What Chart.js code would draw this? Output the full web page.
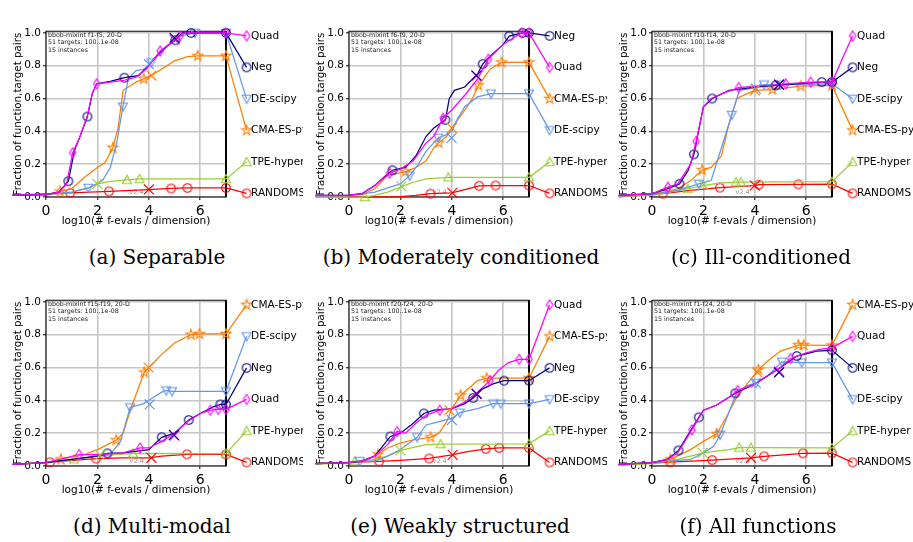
<!DOCTYPE html>
<html>
<head>
<meta charset="utf-8">
<script src="https://cdn.jsdelivr.net/npm/chart.js@4.4.1/dist/chart.umd.min.js"></script>
<style>
  html, body { margin: 0; padding: 0; background: #fff; }
  #page { position: relative; width: 913px; height: 542px; overflow: hidden; }
  #page canvas { position: absolute; }
  .cap { position: absolute; width: 320px; text-align: center; font-family: 'DejaVu Serif', serif;
         font-size: 20px; line-height: 24px; color: #000; white-space: nowrap; }
</style>
</head>
<body>
<div id="page"></div>
<script>
const algos = ['Quad', 'Neg', 'DE-scipy', 'CMA-ES-py', 'TPE-hyper', 'RANDOMS'];
const labelLevels = [0.982, 0.79, 0.598, 0.406, 0.214, 0.022];
const labelX = 7.8;
const xTicks = [0, 2, 4, 6];
const yTicks = [0, 0.2, 0.4, 0.6, 0.8, 1.0];
const infoLines = ['51 targets: 100..1e-08', '15 instances'];

// points are [log10(evals/dim), fraction, 1 = marker]
// (a) separable f1-f5
const sepQuad = [[-1.3,0.012],[0,0.015],[0.5,0.03],[0.8,0.08],[1.04,0.27,1],[1.3,0.36],[1.6,0.49],[1.8,0.63],[1.97,0.69,1],[2.5,0.70],[3.0,0.71],[3.5,0.73],[3.9,0.78],[4.2,0.84],[4.44,0.89,1],[4.7,0.92],[4.96,0.95],[5.2,0.98,1],[5.4,1.0],[6.0,1.0],[7,1.0,1]];
const sepNeg = [[-1.3,0.012],[0,0.015],[0.5,0.03],[0.87,0.096,1],[1.1,0.28],[1.35,0.38],[1.61,0.49,1],[1.8,0.63],[1.97,0.69],[2.5,0.705],[3.05,0.727,1],[3.6,0.74],[3.92,0.79],[4.3,0.86],[4.7,0.92],[5.03,0.955,1],[5.3,1.0],[5.64,1.0,1],[7,1.0,1]];
const sepDE = [[-1.3,0.01],[0,0.015],[1.0,0.03],[1.65,0.055,1],[2.2,0.1],[2.5,0.18],[2.75,0.33],[2.99,0.55,1],[3.2,0.72],[3.5,0.77],[3.9,0.78],[4.1,0.82,1],[4.4,0.87],[4.8,0.93],[5.2,0.98],[5.8,1.0,1],[7,1.0,1]];
const sepCMA = [[-1.3,0.01],[0,0.015],[0.55,0.034,1],[1.0,0.05],[1.5,0.12],[2.0,0.18],[2.3,0.21],[2.6,0.30,1],[2.8,0.42],[3.0,0.65],[3.3,0.68],[3.5,0.70],[3.8,0.72,1],[4.2,0.75],[4.6,0.79],[5.0,0.83],[5.5,0.855],[5.9,0.86,1],[7,0.86,1]];
const sepTPE = [[-1.3,0.01],[0,0.015],[1.0,0.03],[1.65,0.055],[2.0,0.08],[2.5,0.095],[3.15,0.105,1],[3.64,0.11,1],[7,0.11,1]];
const sepRnd = [[-1.3,0.012],[0.94,0.025,1],[2.45,0.034,1],[4.0,0.045],[4.87,0.052,1],[5.5,0.055,1],[7,0.055,1]];
const sepCross = [[5.0,0.96],[5.0,0.97],[4.0,0.81],[4.1,0.74],[2.0,0.08],[4.0,0.046]];
const sepOrder = ['Quad', 'Neg', 'DE-scipy', 'CMA-ES-py', 'TPE-hyper', 'RANDOMS'];

// (b) moderately conditioned f6-f9
const modQuad = [[-1.3,0.01],[0,0.012],[0.5,0.02],[1.0,0.07],[1.58,0.145,1],[2.0,0.17],[2.5,0.22],[3.0,0.33],[3.3,0.37],[3.66,0.48,1],[4.0,0.53],[4.5,0.62],[5.0,0.72],[5.42,0.84,1],[6.0,0.93],[6.4,0.97],[6.71,1.0,1],[7,1.0,1]];
const modNeg = [[-1.3,0.01],[0,0.012],[0.5,0.02],[1.0,0.07],[1.5,0.14],[1.69,0.163,1],[2.2,0.18],[2.6,0.25],[3.0,0.37],[3.3,0.42],[3.75,0.47,1],[3.9,0.6],[4.1,0.65],[4.5,0.67],[5.0,0.75],[5.2,0.81,1],[5.5,0.86],[6.0,0.93],[6.23,0.98,1],[6.75,1.0,1],[7,1.0,1]];
const modDE = [[-1.3,0.005],[0,0.008],[1.0,0.03],[1.6,0.06],[2.0,0.08],[2.36,0.13,1],[2.7,0.2],[3.0,0.28],[3.47,0.36,1],[3.8,0.38],[4.0,0.40],[4.2,0.47],[4.5,0.55],[5.0,0.61],[5.52,0.63,1],[7,0.63,1]];
const modCMA = [[-1.3,0.005],[0,0.008],[0.5,0.015],[1.0,0.05],[1.5,0.13],[2.2,0.155,1],[2.6,0.18],[3.0,0.22],[3.3,0.30],[3.49,0.33,1],[3.8,0.37],[4.0,0.42],[4.5,0.53],[4.8,0.6],[5.03,0.68,1],[5.5,0.78],[5.93,0.82,1],[7,0.82,1]];
const modTPE = [[-1.3,0.0],[0.61,0.0,1],[1.0,0.01],[1.5,0.03],[2.0,0.06],[2.5,0.09],[3.0,0.11],[3.86,0.12,1],[7,0.12,1]];
const modRnd = [[-1.3,0.0],[2.0,0.003],[2.6,0.01],[3.17,0.02,1],[4.0,0.025],[4.5,0.045],[5.06,0.068,1],[5.7,0.07,1],[7,0.07,1]];
const modCross = [[4.95,0.74],[4.96,0.74],[3.99,0.36],[4.0,0.42],[2.04,0.065],[4.02,0.025]];
const modOrder = ['Neg', 'Quad', 'CMA-ES-py', 'DE-scipy', 'TPE-hyper', 'RANDOMS'];

// (c) ill-conditioned f10-f14
const illQuad = [[-1.3,0.01],[0,0.02],[0.62,0.06,1],[1.0,0.08],[1.5,0.2],[1.72,0.34,1],[2.0,0.55],[2.3,0.60],[2.8,0.635],[3.37,0.667,1],[4.0,0.675],[4.6,0.68],[5.2,0.69,1],[6.17,0.70,1],[7,0.70,1]];
const illNeg = [[-1.3,0.01],[0,0.02],[0.6,0.05],[1.07,0.08,1],[1.4,0.16],[1.63,0.26,1],[2.0,0.55],[2.34,0.60,1],[3.0,0.65],[4.0,0.67],[4.81,0.68,1],[6.6,0.70,1],[7,0.70,1]];
const illDE = [[-1.3,0.005],[0,0.015],[1.0,0.04],[1.82,0.08,1],[2.3,0.1],[2.6,0.25],[3.1,0.50,1],[3.4,0.65],[4.0,0.665],[4.36,0.685,1],[5.0,0.685,1],[7,0.69,1]];
const illCMA = [[-1.3,0.005],[0,0.015],[1.0,0.05],[1.5,0.1],[1.95,0.164,1],[2.3,0.18],[2.7,0.25],[3.0,0.45],[3.3,0.6],[3.7,0.63],[4.0,0.65],[4.68,0.655,1],[5.78,0.675,1],[7,0.68,1]];
const illTPE = [[-1.3,0.0],[0,0.01],[1.39,0.05,1],[2.0,0.07],[2.6,0.085],[3.26,0.09,1],[3.45,0.09,1],[7,0.093,1]];
const illRnd = [[-1.3,0.0],[0.42,0.02,1],[1.5,0.04],[2.64,0.057,1],[4.0,0.07],[4.16,0.075,1],[5.69,0.077,1],[7,0.078,1]];
const illCross = [[4.94,0.685],[4.94,0.685],[4.04,0.66],[4.0,0.65],[2.0,0.075],[4.0,0.07]];
const illOrder = ['Quad', 'Neg', 'DE-scipy', 'CMA-ES-py', 'TPE-hyper', 'RANDOMS'];

// (d) multi-modal f15-f19
const mulQuad = [[-1.3,0.01],[0,0.02],[1.29,0.07,1],[2.0,0.07],[3.0,0.08],[3.66,0.11,1],[4.0,0.11],[4.5,0.15],[5.0,0.2],[5.5,0.27],[6.0,0.32],[6.39,0.34,1],[6.7,0.345,1],[7,0.345,1]];
const mulNeg = [[-1.3,0.01],[0,0.02],[1.0,0.04],[2.0,0.06],[2.39,0.077,1],[3.0,0.08],[4.0,0.1],[4.2,0.13],[4.5,0.175,1],[5.0,0.2],[5.55,0.28,1],[6.0,0.32],[6.5,0.36],[6.78,0.375,1],[7,0.375,1]];
const mulDE = [[-1.3,0.01],[0,0.02],[1.0,0.04],[2.0,0.06],[2.5,0.07],[2.9,0.15],[3.27,0.357,1],[3.8,0.38],[4.2,0.42],[4.5,0.45],[4.68,0.46,1],[4.9,0.455,1],[7,0.455,1]];
const mulCMA = [[-1.3,0.01],[0,0.02],[0.58,0.04,1],[1.5,0.07],[2.0,0.10],[2.73,0.157,1],[3.0,0.2],[3.3,0.35],[3.82,0.57,1],[4.0,0.6],[4.5,0.68],[5.0,0.75],[5.64,0.80,1],[5.97,0.805,1],[7,0.805,1]];
const mulTPE = [[-1.3,0.01],[0,0.02],[1.09,0.04,1],[2.0,0.06],[2.7,0.07],[3.38,0.077,1],[7,0.075,1]];
const mulRnd = [[-1.3,0.01],[0.16,0.023,1],[1.95,0.045,1],[3.0,0.05],[4.0,0.05],[4.5,0.06],[5.48,0.071,1],[7,0.071,1]];
const mulCross = [[5.0,0.185],[4.97,0.19],[4.03,0.375],[3.99,0.60],[2.1,0.068],[4.1,0.05]];
const mulOrder = ['CMA-ES-py', 'DE-scipy', 'Neg', 'Quad', 'TPE-hyper', 'RANDOMS'];

// (e) weakly structured f20-f24
const weaQuad = [[-1.3,0.015],[0,0.02],[0.5,0.03],[1.0,0.06],[1.5,0.13],[1.87,0.21,1],[2.2,0.2],[2.6,0.26],[3.0,0.31],[3.53,0.34,1],[4.0,0.35],[4.5,0.39],[5.0,0.45],[5.48,0.52,1],[5.8,0.58],[6.2,0.63],[6.62,0.65,1],[7,0.65,1]];
const weaNeg = [[-1.3,0.015],[0,0.02],[0.5,0.03],[1.0,0.06],[1.61,0.18,1],[2.0,0.2],[2.5,0.26],[2.91,0.32,1],[3.3,0.34],[4.0,0.35],[4.5,0.38],[4.83,0.415,1],[5.2,0.47],[5.6,0.5],[6.03,0.52,1],[7,0.52,1]];
const weaDE = [[-1.3,0.015],[0,0.02],[0.42,0.03,1],[1.0,0.03],[1.5,0.06],[2.0,0.1],[2.65,0.175,1],[3.0,0.25],[3.5,0.27],[4.0,0.29],[4.31,0.325,1],[5.0,0.35],[5.61,0.38,1],[5.9,0.38,1],[7,0.38,1]];
const weaCMA = [[-1.3,0.015],[0,0.02],[0.5,0.03],[1.13,0.07,1],[1.5,0.11],[2.0,0.14],[2.5,0.16],[3.17,0.175,1],[3.5,0.2],[3.8,0.27],[4.0,0.35],[4.34,0.43,1],[4.7,0.48],[5.0,0.52],[5.35,0.535,1],[7,0.535,1]];
const weaTPE = [[-1.3,0.01],[0,0.02],[0.22,0.03,1],[1.0,0.04],[1.5,0.06],[2.0,0.095],[3.0,0.13],[3.56,0.134,1],[7,0.135,1]];
const weaRnd = [[-1.3,0.015],[1.17,0.028,1],[2.0,0.035],[3.12,0.046,1],[4.0,0.068],[4.5,0.085],[5.32,0.104,1],[5.84,0.11,1],[7,0.11,1]];
const weaCross = [[4.97,0.44],[4.96,0.44],[4.0,0.28],[3.9,0.34],[2.0,0.095],[4.03,0.068]];
const weaOrder = ['Quad', 'CMA-ES-py', 'Neg', 'DE-scipy', 'TPE-hyper', 'RANDOMS'];

// (f) all functions f1-f24
const allQuad = [[-1.3,0.01],[0,0.02],[0.6,0.04],[1.0,0.08],[1.55,0.22,1],[2.0,0.34],[2.5,0.37],[3.0,0.42],[3.33,0.46,1],[4.0,0.5],[4.5,0.55],[5.0,0.6],[5.39,0.655,1],[6.0,0.69],[6.5,0.71],[7,0.72,1]];
const allNeg = [[-1.3,0.01],[0,0.02],[0.6,0.04],[1.03,0.095,1],[1.82,0.296,1],[2.0,0.34],[2.5,0.37],[3.24,0.443,1],[4.0,0.5],[4.5,0.55],[5.0,0.6],[5.63,0.67,1],[6.4,0.70],[7,0.705,1]];
const allDE = [[-1.3,0.01],[0,0.02],[1.5,0.04],[2.0,0.08],[2.4,0.12],[2.65,0.19,1],[3.0,0.33],[3.3,0.45],[3.7,0.49],[4.04,0.505,1],[4.5,0.55],[5.05,0.635,1],[5.82,0.63,1],[7,0.63,1]];
const allCMA = [[-1.3,0.01],[0,0.02],[0.71,0.04,1],[1.5,0.1],[2.0,0.15],[2.52,0.196,1],[2.9,0.3],[3.3,0.42],[3.7,0.5],[4.14,0.587,1],[4.5,0.64],[5.0,0.7],[5.69,0.737,1],[5.9,0.737,1],[7,0.735,1]];
const allTPE = [[-1.3,0.005],[0,0.015],[1.0,0.04],[1.5,0.06],[2.0,0.08],[2.5,0.09],[3.0,0.1],[3.39,0.112,1],[3.85,0.112,1],[7,0.11,1]];
const allRnd = [[-1.3,0.005],[0.71,0.023,1],[2.34,0.036,1],[3.85,0.05],[4.36,0.059,1],[5.87,0.077,1],[7,0.078,1]];
const allCross = [[4.95,0.575],[4.94,0.57],[4.04,0.505],[4.1,0.57],[1.97,0.08],[3.85,0.05]];
const allOrder = ['CMA-ES-py', 'Quad', 'Neg', 'DE-scipy', 'TPE-hyper', 'RANDOMS'];

const panels = [
  { title: 'bbob-mixint f1-f5, 20-D', caption: '(a) Separable', order: sepOrder, cross: sepCross,
    curves: [sepQuad, sepNeg, sepDE, sepCMA, sepTPE, sepRnd] },
  { title: 'bbob-mixint f6-f9, 20-D', caption: '(b) Moderately conditioned', order: modOrder, cross: modCross,
    curves: [modQuad, modNeg, modDE, modCMA, modTPE, modRnd] },
  { title: 'bbob-mixint f10-f14, 20-D', caption: '(c) Ill-conditioned', order: illOrder, cross: illCross,
    curves: [illQuad, illNeg, illDE, illCMA, illTPE, illRnd] },
  { title: 'bbob-mixint f15-f19, 20-D', caption: '(d) Multi-modal', order: mulOrder, cross: mulCross,
    curves: [mulQuad, mulNeg, mulDE, mulCMA, mulTPE, mulRnd] },
  { title: 'bbob-mixint f20-f24, 20-D', caption: '(e) Weakly structured', order: weaOrder, cross: weaCross,
    curves: [weaQuad, weaNeg, weaDE, weaCMA, weaTPE, weaRnd] },
  { title: 'bbob-mixint f1-f24, 20-D', caption: '(f) All functions', order: allOrder, cross: allCross,
    curves: [allQuad, allNeg, allDE, allCMA, allTPE, allRnd] },
];

// page placement of each subfigure
const slots = [
  { left: 0, top: 0, width: 303, capX: 157, capTop: 245 },
  { left: 303, top: 0, width: 304, capX: 461, capTop: 245 },
  { left: 606, top: 0, width: 307, capX: 761, capTop: 245 },
  { left: 0, top: 269, width: 303, capX: 152, capTop: 514 },
  { left: 303, top: 269, width: 304, capX: 460, capTop: 514 },
  { left: 606, top: 269, width: 307, capX: 758, capTop: 514 },
];

const colors = ['#ff00ff', '#000080', '#6495ed', '#ff7f00', '#9acd32', '#ff0000'];
const shapes = ['diamond', 'circle', 'tridown', 'star', 'triup', 'circle'];
const font = 'DejaVu Sans';

const markerImg = (shape, color) => {
  const c = document.createElement('canvas');
  c.width = 14;
  c.height = 14;
  const g = c.getContext('2d');
  g.translate(7, 7);
  g.strokeStyle = color;
  g.lineWidth = 1.1;
  g.beginPath();
  if (shape === 'circle') {
    g.arc(0, 0, 4.3, 0, Math.PI * 2);
  } else if (shape === 'diamond') {
    g.moveTo(0, -5); g.lineTo(3.2, 0); g.lineTo(0, 5); g.lineTo(-3.2, 0); g.closePath();
  } else if (shape === 'tridown') {
    g.moveTo(-4.5, -3.8); g.lineTo(4.5, -3.8); g.lineTo(0, 4.5); g.closePath();
  } else if (shape === 'triup') {
    g.moveTo(-4.5, 3.8); g.lineTo(4.5, 3.8); g.lineTo(0, -4.5); g.closePath();
  } else if (shape === 'star') {
    for (let i = 0; i < 10; i++) {
      const r = i % 2 ? 2.1 : 5.3;
      const a = -Math.PI / 2 + i * Math.PI / 5;
      if (i === 0) g.moveTo(r * Math.cos(a), r * Math.sin(a));
      else g.lineTo(r * Math.cos(a), r * Math.sin(a));
    }
    g.closePath();
  }
  g.stroke();
  return c;
};

const bbobDecor = {
  id: 'bbobDecor',
  beforeDatasetsDraw(chart, args, opts) {
    const { ctx, chartArea: a } = chart;
    const xs = chart.scales.x;
    const ys = chart.scales.y;
    ctx.save();
    ctx.strokeStyle = '#000';
    ctx.lineWidth = 1;
    ctx.strokeRect(a.left, a.top, a.right - a.left, a.bottom - a.top);
    ctx.lineWidth = 2;
    ctx.beginPath();
    ctx.moveTo(a.right, a.top);
    ctx.lineTo(a.right, a.bottom);
    ctx.stroke();

    ctx.fillStyle = '#222';
    ctx.font = '6.3px "' + font + '"';
    ctx.textBaseline = 'middle';
    [opts.title, ...infoLines].forEach((t, i) => ctx.fillText(t, a.left + 2, a.top + 4.4 + i * 7.2));

    ctx.fillStyle = '#999';
    ctx.font = '6.5px "' + font + '"';
    ctx.fillText('v2.4', xs.getPixelForValue(3.25), ys.getPixelForValue(0.027));
    ctx.restore();
  },
  afterDatasetsDraw(chart, args, opts) {
    const { ctx } = chart;
    const xs = chart.scales.x;
    const ys = chart.scales.y;
    ctx.save();
    ctx.fillStyle = '#000';
    ctx.font = '10.5px "' + font + '"';
    ctx.textBaseline = 'middle';
    opts.order.forEach((name, i) => {
      ctx.fillText(name, xs.getPixelForValue(labelX) + 4.5, ys.getPixelForValue(labelLevels[i]));
    });
    ctx.restore();
  }
};

// x range fixed after the data limits (not as user min/max) so the line
// controller keeps the points that lie outside the frame
const fixX = s => { s.min = 0; s.max = 7; };

const page = document.getElementById('page');

panels.forEach((panel, p) => {
  const slot = slots[p];
  const canvas = document.createElement('canvas');
  canvas.width = slot.width;
  canvas.height = 232;
  canvas.style.left = slot.left + 'px';
  canvas.style.top = slot.top + 'px';
  page.appendChild(canvas);

  const cap = document.createElement('div');
  cap.className = 'cap';
  cap.textContent = panel.caption;
  cap.style.left = (slot.capX - 160) + 'px';
  cap.style.top = slot.capTop + 'px';
  page.appendChild(cap);

  const datasets = [{
    data: panel.cross.map(([x, y]) => ({ x, y })),
    showLine: false,
    clip: false,
    pointStyle: 'crossRot',
    pointRadius: 7,
    pointBorderWidth: 1.1,
    pointBorderColor: colors,
    pointBackgroundColor: 'transparent',
  }];

  algos.forEach((name, k) => {
    const level = labelLevels[panel.order.indexOf(name)];
    const data = panel.curves[k]
      .map(pt => ({ x: pt[0], y: pt[1], m: pt[2] === 1 }))
      .concat([{ x: labelX, y: level, m: true }]);
    datasets.push({
      label: name,
      data,
      showLine: true,
      tension: 0,
      clip: false,
      borderColor: colors[k],
      borderWidth: 1.25,
      pointStyle: markerImg(shapes[k], colors[k]),
      // image markers keep their own size; the radius only keeps them from being culled outside the frame
      pointRadius: c => (c.raw && c.raw.m ? 30 : 0),
    });
  });

  new Chart(canvas, {
    type: 'scatter',
    data: { datasets },
    plugins: [bbobDecor],
    options: {
      responsive: false,
      animation: false,
      events: [],
      devicePixelRatio: 1,
      layout: { padding: { left: 4, right: slot.width - 226, top: 8, bottom: 1 } },
      plugins: {
        legend: { display: false },
        tooltip: { enabled: false },
        bbobDecor: { title: panel.title, order: panel.order },
      },
      scales: {
        x: {
          type: 'linear',
          bounds: 'data',
          afterDataLimits: fixX,
          afterBuildTicks: s => { fixX(s); s.ticks = xTicks.map(v => ({ value: v })); },
          afterFit: s => { s.height = 34; },
          border: { display: false },
          grid: { color: '#c6c6c6', lineWidth: 1.6, tickColor: '#000', tickLength: 3, tickWidth: 1 },
          ticks: { font: { family: font, size: 14 }, color: '#000', padding: 2.5, maxRotation: 0 },
          title: {
            display: true,
            text: 'log10(# f-evals / dimension)',
            color: '#000',
            font: { family: font, size: 10.5 },
            padding: { top: 0, bottom: 3.2 },
          },
        },
        y: {
          type: 'linear',
          min: 0,
          max: 1.01,
          afterBuildTicks: s => { s.ticks = yTicks.map(v => ({ value: v })); },
          afterFit: s => { s.width = 42; },
          border: { display: false },
          grid: { color: '#c6c6c6', lineWidth: 1.6, tickColor: '#000', tickLength: 3, tickWidth: 1 },
          ticks: {
            font: { family: font, size: 10.5 },
            color: '#000',
            padding: 2,
            callback: v => v.toFixed(1),
          },
          title: {
            display: true,
            text: 'Fraction of function,target pairs',
            color: '#000',
            font: { family: font, size: 10.3 },
            padding: { top: 8.2, bottom: 0 },
          },
        },
      },
    },
  });
});
</script>
</body>
</html>
